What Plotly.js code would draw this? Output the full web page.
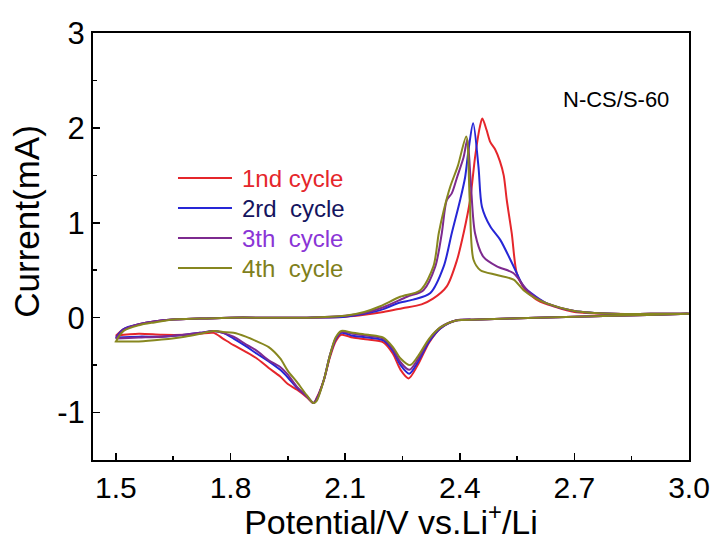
<!DOCTYPE html>
<html>
<head>
<meta charset="utf-8">
<script src="https://cdn.plot.ly/plotly-3.0.1.min.js"></script>
<style>
  html, body { margin: 0; padding: 0; background: #ffffff; }
  #chart { width: 719px; height: 541px; }
</style>
</head>
<body>
<div id="chart"></div>
<script>
// Cyclic voltammetry of N-CS/S-60: each cycle is a closed loop,
// cathodic sweep 3.0 V -> 1.5 V followed by anodic sweep 1.5 V -> 3.0 V.

// ---- cycle 1 ----
const c1CathV = [3.0, 2.8, 2.6, 2.45, 2.39, 2.35, 2.32, 2.29, 2.266, 2.245, 2.225, 2.2, 2.16, 2.12, 2.09, 2.075, 2.06, 2.044, 2.025, 2.017, 2.0, 1.974, 1.95, 1.93, 1.9, 1.869, 1.84, 1.808, 1.78, 1.756, 1.72, 1.68, 1.62, 1.56, 1.5];
const c1CathI = [0.04, 0.02, 0.0, -0.02, -0.03, -0.11, -0.26, -0.50, -0.64, -0.55, -0.38, -0.26, -0.23, -0.21, -0.18, -0.25, -0.42, -0.66, -0.85, -0.90, -0.84, -0.76, -0.70, -0.62, -0.53, -0.43, -0.36, -0.29, -0.22, -0.16, -0.17, -0.18, -0.18, -0.17, -0.19];
const c1AnodV = [1.5, 1.52, 1.56, 1.6, 1.65, 1.72, 1.8, 1.9, 2.0, 2.1, 2.15, 2.2, 2.25, 2.3, 2.33, 2.366, 2.393, 2.41, 2.427, 2.44, 2.452, 2.459, 2.47, 2.48, 2.493, 2.505, 2.515, 2.523, 2.536, 2.549, 2.565, 2.585, 2.61, 2.645, 2.7, 2.8, 2.9, 3.0];
const c1AnodI = [-0.19, -0.12, -0.07, -0.04, -0.02, -0.01, 0.0, 0.0, 0.0, 0.01, 0.03, 0.06, 0.10, 0.14, 0.20, 0.33, 0.61, 0.89, 1.24, 1.69, 2.0, 2.10, 1.98, 1.85, 1.77, 1.65, 1.50, 1.24, 0.89, 0.47, 0.33, 0.24, 0.17, 0.12, 0.06, 0.04, 0.04, 0.04];

// ---- cycle 2 ----
const c2CathV = [3.0, 2.8, 2.6, 2.45, 2.39, 2.35, 2.32, 2.29, 2.268, 2.245, 2.225, 2.2, 2.16, 2.12, 2.09, 2.075, 2.06, 2.044, 2.025, 2.017, 2.0, 1.974, 1.95, 1.93, 1.9, 1.869, 1.84, 1.808, 1.78, 1.756, 1.72, 1.68, 1.62, 1.56, 1.5];
const c2CathI = [0.04, 0.02, 0.0, -0.02, -0.03, -0.11, -0.25, -0.47, -0.59, -0.50, -0.35, -0.24, -0.21, -0.19, -0.16, -0.23, -0.40, -0.66, -0.86, -0.90, -0.83, -0.74, -0.63, -0.55, -0.46, -0.38, -0.30, -0.22, -0.16, -0.14, -0.16, -0.18, -0.20, -0.20, -0.21];
const c2AnodV = [1.5, 1.52, 1.56, 1.6, 1.65, 1.72, 1.8, 1.9, 2.0, 2.1, 2.15, 2.2, 2.236, 2.278, 2.323, 2.358, 2.379, 2.401, 2.414, 2.423, 2.435, 2.449, 2.458, 2.48, 2.506, 2.541, 2.567, 2.6, 2.628, 2.7, 2.8, 2.9, 3.0];
const c2AnodI = [-0.21, -0.12, -0.07, -0.04, -0.02, -0.01, 0.0, 0.0, 0.0, 0.01, 0.04, 0.09, 0.15, 0.19, 0.26, 0.54, 0.89, 1.24, 1.48, 1.77, 2.05, 1.59, 1.17, 0.96, 0.82, 0.54, 0.33, 0.22, 0.15, 0.07, 0.04, 0.04, 0.04];

// ---- cycle 3 ----
const c3CathV = [3.0, 2.8, 2.6, 2.45, 2.39, 2.35, 2.32, 2.29, 2.268, 2.245, 2.225, 2.2, 2.16, 2.12, 2.09, 2.075, 2.06, 2.044, 2.025, 2.017, 2.0, 1.974, 1.95, 1.93, 1.9, 1.869, 1.84, 1.808, 1.78, 1.756, 1.72, 1.68, 1.62, 1.56, 1.5];
const c3CathI = [0.04, 0.02, 0.0, -0.02, -0.03, -0.10, -0.23, -0.44, -0.55, -0.47, -0.33, -0.22, -0.19, -0.17, -0.15, -0.22, -0.40, -0.66, -0.87, -0.90, -0.83, -0.73, -0.60, -0.52, -0.45, -0.35, -0.28, -0.20, -0.16, -0.14, -0.16, -0.18, -0.20, -0.21, -0.22];
const c3AnodV = [1.5, 1.52, 1.56, 1.6, 1.65, 1.72, 1.8, 1.9, 2.0, 2.1, 2.15, 2.2, 2.262, 2.305, 2.336, 2.353, 2.366, 2.379, 2.393, 2.41, 2.42, 2.429, 2.44, 2.462, 2.497, 2.54, 2.576, 2.6, 2.628, 2.7, 2.8, 2.9, 3.0];
const c3AnodI = [-0.22, -0.13, -0.07, -0.04, -0.02, -0.01, 0.0, 0.0, 0.0, 0.02, 0.05, 0.11, 0.22, 0.29, 0.54, 0.89, 1.24, 1.31, 1.48, 1.69, 1.88, 1.41, 0.89, 0.64, 0.54, 0.47, 0.29, 0.21, 0.15, 0.07, 0.04, 0.04, 0.04];

// ---- cycle 4 ----
const c4CathV = [3.0, 2.8, 2.6, 2.45, 2.39, 2.35, 2.32, 2.29, 2.27, 2.245, 2.225, 2.2, 2.16, 2.12, 2.09, 2.075, 2.06, 2.044, 2.025, 2.017, 2.0, 1.974, 1.95, 1.93, 1.9, 1.869, 1.84, 1.808, 1.78, 1.756, 1.72, 1.68, 1.62, 1.56, 1.5];
const c4CathI = [0.04, 0.02, 0.0, -0.02, -0.03, -0.10, -0.22, -0.41, -0.50, -0.43, -0.31, -0.21, -0.18, -0.16, -0.14, -0.21, -0.40, -0.66, -0.88, -0.90, -0.82, -0.68, -0.56, -0.43, -0.31, -0.25, -0.20, -0.16, -0.15, -0.14, -0.17, -0.20, -0.23, -0.25, -0.25];
const c4AnodV = [1.5, 1.52, 1.56, 1.6, 1.65, 1.72, 1.8, 1.9, 2.0, 2.1, 2.15, 2.192, 2.244, 2.297, 2.331, 2.345, 2.358, 2.375, 2.395, 2.417, 2.426, 2.436, 2.454, 2.497, 2.541, 2.567, 2.6, 2.628, 2.7, 2.8, 2.9, 3.0];
const c4AnodI = [-0.25, -0.14, -0.08, -0.05, -0.02, -0.01, 0.0, 0.0, 0.0, 0.02, 0.06, 0.12, 0.22, 0.29, 0.54, 0.89, 1.13, 1.38, 1.60, 1.91, 1.24, 0.61, 0.50, 0.45, 0.40, 0.29, 0.20, 0.15, 0.07, 0.04, 0.04, 0.04];

// axis tick labels (plain hyphen for the negative value)
const xTickVals = [1.5, 1.8, 2.1, 2.4, 2.7, 3.0];
const xTickText = ['1.5', '1.8', '2.1', '2.4', '2.7', '3.0'];
const yTickVals = [-1, 0, 1, 2, 3];
const yTickText = ['-1', '0', '1', '2', '3'];

const cycleNames = ['1nd cycle', '2rd&nbsp; cycle', '3th&nbsp; cycle', '4th&nbsp; cycle'];
const lineColors = ['#e5262b', '#2626d6', '#7d2a8f', '#87871f'];
const textColors = ['#e5262b', '#14145e', '#8a35d6', '#7f7f1c'];

const sweeps = [
  [c1CathV, c1CathI, c1AnodV, c1AnodI],
  [c2CathV, c2CathI, c2AnodV, c2AnodI],
  [c3CathV, c3CathI, c3AnodV, c3AnodI],
  [c4CathV, c4CathI, c4AnodV, c4AnodI]
];

const traces = sweeps.map((s, k) => ({
  type: 'scatter',
  mode: 'lines',
  x: s[0].concat(s[2]),
  y: s[1].concat(s[3]),
  name: cycleNames[k],
  line: { color: lineColors[k], width: 2, shape: 'spline', smoothing: 0.8 },
  hoverinfo: 'skip'
}));

const font = 'Liberation Sans, Arial, sans-serif';

// Key: a swatch line plus coloured label per cycle, stacked inside the plot area
const keyLeft = 0.1426, keyRight = 0.2332, keyTextX = 0.2466;
const keyTop = 0.6604, keyStep = 0.0703;
const keyShapes = cycleNames.map((n, k) => ({
  type: 'line', xref: 'paper', yref: 'paper',
  x0: keyLeft, x1: keyRight, y0: keyTop - k * keyStep, y1: keyTop - k * keyStep,
  line: { color: lineColors[k], width: 2 }
}));
const keyLabels = cycleNames.map((n, k) => ({
  text: n, xref: 'paper', yref: 'paper',
  x: keyTextX, y: keyTop - k * keyStep, xanchor: 'left', yanchor: 'middle',
  showarrow: false, font: { family: font, size: 24, color: textColors[k] }
}));

const layout = {
  width: 719,
  height: 541,
  margin: { l: 93, r: 30, t: 33, b: 81 },
  paper_bgcolor: '#ffffff',
  plot_bgcolor: '#ffffff',
  font: { family: font, color: '#000000' },
  showlegend: false,
  xaxis: {
    range: [1.44, 3.0],
    tickmode: 'array', tickvals: xTickVals, ticktext: xTickText,
    ticks: 'inside', ticklen: 7, tickwidth: 1.5, tickcolor: '#000',
    minor: { dtick: 0.15, tick0: 1.5, ticks: 'inside', ticklen: 4, tickwidth: 1.5, tickcolor: '#000' },
    showline: true, linecolor: '#000', linewidth: 2, mirror: true,
    showgrid: false, zeroline: false,
    tickfont: { family: font, size: 30 },
    title: { text: 'Potential/V vs.Li<sup>+</sup>/Li', font: { family: font, size: 34 }, standoff: 3 }
  },
  yaxis: {
    range: [-1.5, 3],
    tickmode: 'array', tickvals: yTickVals, ticktext: yTickText,
    ticks: 'inside', ticklen: 7, tickwidth: 1.5, tickcolor: '#000',
    minor: { dtick: 0.5, tick0: 0, ticks: 'inside', ticklen: 4, tickwidth: 1.5, tickcolor: '#000' },
    showline: true, linecolor: '#000', linewidth: 2, mirror: true,
    showgrid: false, zeroline: false,
    tickfont: { family: font, size: 31 }
  },
  shapes: keyShapes,
  annotations: [
    {
      text: 'Current(mA)', xref: 'paper', yref: 'paper',
      x: -0.111, y: 0.56, xanchor: 'center', yanchor: 'middle', textangle: -90,
      showarrow: false, font: { family: font, size: 35, color: '#000' }
    },
    {
      text: 'N-CS/S-60', xref: 'paper', yref: 'paper',
      x: 0.97, y: 0.845, xanchor: 'right', yanchor: 'middle',
      showarrow: false, font: { family: font, size: 22, color: '#000' }
    }
  ].concat(keyLabels)
};

Plotly.newPlot('chart', traces, layout, { staticPlot: true, displayModeBar: false });
</script>
</body>
</html>
